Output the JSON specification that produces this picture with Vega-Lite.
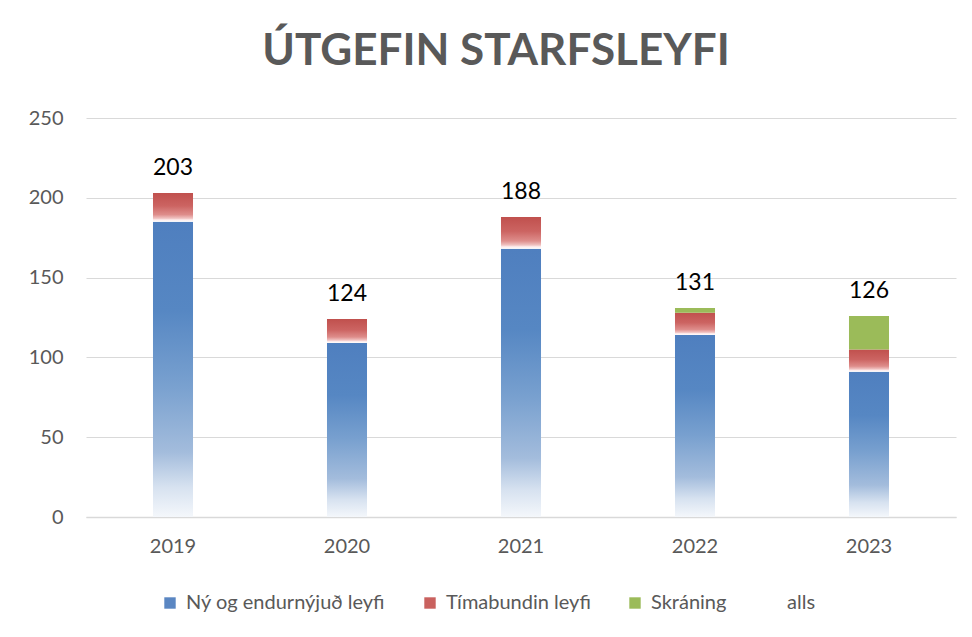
{
  "$schema": "https://vega.github.io/schema/vega-lite/v6.json",
  "width": 870,
  "height": 399,
  "autosize": {"type": "none"},
  "padding": {"left": 86, "top": 118, "right": 16, "bottom": 120},
  "background": "white",
  "config": {"view": {"stroke": null}, "font": "Lato"},
  "title": {
    "text": "ÚTGEFIN STARFSLEYFI",
    "font": "Lato",
    "fontSize": 44,
    "fontWeight": "bold",
    "color": "#595959",
    "anchor": "middle",
    "frame": "group",
    "dx": -25,
    "offset": 34
  },
  "data": {
    "values": [
      {"year": "2019", "series": "Ný og endurnýjuð leyfi", "value": 185, "order": 1},
      {"year": "2019", "series": "Tímabundin leyfi", "value": 18, "order": 2},
      {"year": "2020", "series": "Ný og endurnýjuð leyfi", "value": 109, "order": 1},
      {"year": "2020", "series": "Tímabundin leyfi", "value": 15, "order": 2},
      {"year": "2021", "series": "Ný og endurnýjuð leyfi", "value": 168, "order": 1},
      {"year": "2021", "series": "Tímabundin leyfi", "value": 20, "order": 2},
      {"year": "2022", "series": "Ný og endurnýjuð leyfi", "value": 114, "order": 1},
      {"year": "2022", "series": "Tímabundin leyfi", "value": 14, "order": 2},
      {"year": "2022", "series": "Skráning", "value": 3, "order": 3},
      {"year": "2023", "series": "Ný og endurnýjuð leyfi", "value": 91, "order": 1},
      {"year": "2023", "series": "Tímabundin leyfi", "value": 14, "order": 2},
      {"year": "2023", "series": "Skráning", "value": 21, "order": 3}
    ]
  },
  "transform": [
    {"stack": "value", "groupby": ["year"], "sort": [{"field": "order", "order": "ascending"}], "as": ["y0", "y1"]}
  ],
  "encoding": {
    "x": {
      "field": "year",
      "type": "ordinal",
      "scale": {"paddingInner": 0.77, "paddingOuter": 0.385},
      "axis": {
        "title": null,
        "labelAngle": 0,
        "labelFont": "Lato",
        "labelFontSize": 20,
        "labelColor": "#595959",
        "labelPadding": 19,
        "ticks": false,
        "domainColor": "#d9d9d9",
        "domainWidth": 1.5,
        "grid": false
      }
    }
  },
  "layer": [
    {
      "mark": {"type": "bar", "opacity": 0},
      "encoding": {
        "y": {
          "field": "y1",
          "type": "quantitative",
          "title": null,
          "scale": {"domain": [0, 250], "nice": false},
          "axis": {
            "values": [0, 50, 100, 150, 200, 250],
            "domain": false,
            "ticks": false,
            "labelFont": "Lato",
            "labelFontSize": 20,
            "labelColor": "#595959",
            "labelPadding": 23,
            "gridColor": "#d9d9d9",
            "gridWidth": 1
          }
        },
        "y2": {"field": "y0"},
        "color": {
          "field": "series",
          "type": "nominal",
          "scale": {
            "domain": ["Ný og endurnýjuð leyfi", "Tímabundin leyfi", "Skráning", "alls"],
            "range": ["#5a86c2", "#c9615e", "#9bbb59", "transparent"]
          },
          "legend": {
            "title": null,
            "orient": "none",
            "direction": "horizontal",
            "legendX": 74,
            "legendY": 475,
            "symbolType": "square",
            "symbolSize": 130,
            "symbolOpacity": 1,
            "symbolStrokeWidth": 0,
            "labelFont": "Lato",
            "labelFontSize": 20,
            "labelColor": "#595959",
            "labelLimit": 0,
            "labelOffset": 6,
            "columnPadding": 34
          }
        }
      }
    },
    {
      "transform": [{"filter": "datum.series === 'Ný og endurnýjuð leyfi'"}],
      "mark": {
        "type": "bar",
        "color": {
          "gradient": "linear",
          "x1": 0, "y1": 0, "x2": 0, "y2": 1,
          "stops": [
            {"offset": 0, "color": "#4f7fbf"},
            {"offset": 0.3, "color": "#5687c3"},
            {"offset": 0.55, "color": "#78a0cf"},
            {"offset": 0.78, "color": "#a3bcdc"},
            {"offset": 0.9, "color": "#d7e2f0"},
            {"offset": 1, "color": "#f4f7fb"}
          ]
        }
      },
      "encoding": {
        "y": {"field": "y1", "type": "quantitative", "title": null},
        "y2": {"field": "y0"}
      }
    },
    {
      "transform": [{"filter": "datum.series === 'Tímabundin leyfi'"}],
      "mark": {
        "type": "bar",
        "color": {
          "gradient": "linear",
          "x1": 0, "y1": 0, "x2": 0, "y2": 1,
          "stops": [
            {"offset": 0, "color": "#c0504d"},
            {"offset": 0.45, "color": "#cc6462"},
            {"offset": 0.75, "color": "#de8d8b"},
            {"offset": 0.88, "color": "#f0c2c1"},
            {"offset": 0.93, "color": "#fde9e9"},
            {"offset": 1, "color": "#ffffff"}
          ]
        }
      },
      "encoding": {
        "y": {"field": "y1", "type": "quantitative", "title": null},
        "y2": {"field": "y0"}
      }
    },
    {
      "transform": [{"filter": "datum.series === 'Skráning'"}],
      "mark": {"type": "bar", "color": "#9bbb59"},
      "encoding": {
        "y": {"field": "y1", "type": "quantitative", "title": null},
        "y2": {"field": "y0"}
      }
    },
    {
      "mark": {"type": "text", "font": "Lato", "fontSize": 23, "color": "#000000", "baseline": "alphabetic", "dy": -18},
      "encoding": {
        "y": {"aggregate": "sum", "field": "value", "type": "quantitative", "title": null},
        "text": {"aggregate": "sum", "field": "value", "type": "quantitative"}
      }
    }
  ]
}
